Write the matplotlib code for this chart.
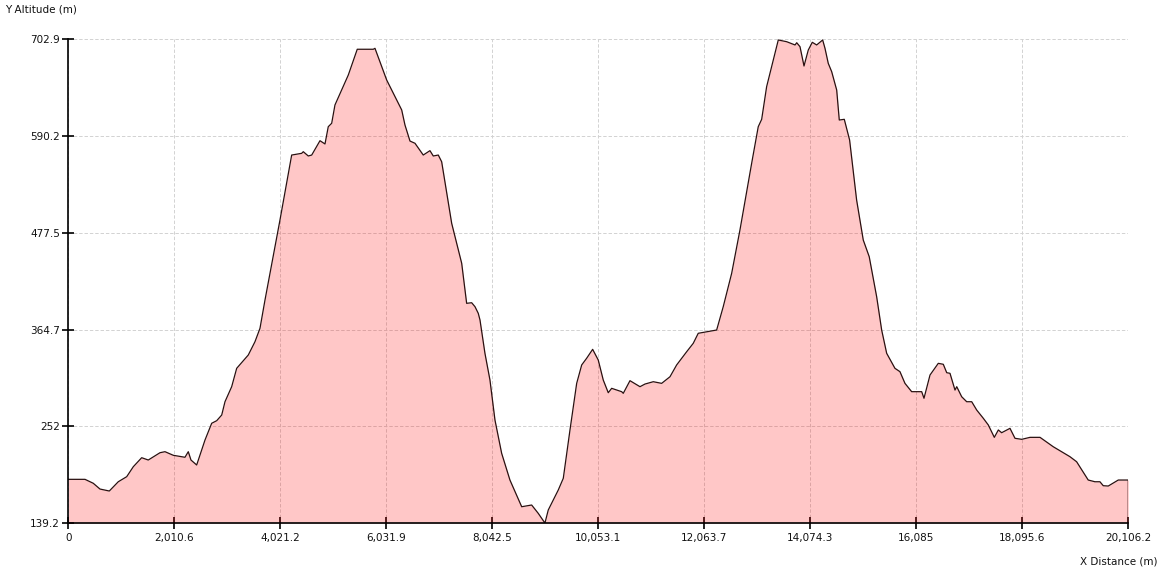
import matplotlib
matplotlib.use("Agg")
import matplotlib.pyplot as plt

# Elevation profile (distance in m, altitude in m)
distance = [0, 317, 474, 601, 778, 948, 1108, 1233, 1392, 1517, 1739, 1834, 1992, 2213, 2276,
            2327, 2435, 2498, 2593, 2720, 2815, 2910, 2972, 3099, 3194, 3414, 3541, 3636, 3731,
            4015, 4237, 4427, 4457, 4552, 4617, 4774, 4869, 4931, 4996, 5058, 5311, 5481, 5785,
            5817, 6039, 6324, 6386, 6481, 6576, 6733, 6860, 6923, 7018, 7082, 7272, 7367, 7462,
            7556, 7651, 7714, 7776, 7809, 7903, 7998, 8093, 8220, 8377, 8600, 8789, 8914, 9041,
            9104, 9294, 9389, 9516, 9643, 9738, 9832, 9946, 10052, 10147, 10242, 10307, 10496,
            10527, 10654, 10844, 10939, 11096, 11255, 11413, 11539, 11729, 11854, 11949, 12109,
            12298, 12423, 12583, 12740, 12962, 13087, 13152, 13246, 13467, 13626, 13785, 13817,
            13879, 13955, 14036, 14112, 14195, 14309, 14353, 14415, 14480, 14575, 14624, 14719,
            14820, 14953, 15079, 15192, 15333, 15428, 15523, 15680, 15775, 15870, 15997, 16187,
            16231, 16345, 16502, 16597, 16662, 16724, 16819, 16852, 16946, 17041, 17136, 17231,
            17356, 17451, 17565, 17641, 17704, 17862, 17957, 18084, 18242, 18432, 18682, 18999,
            19126, 19346, 19473, 19568, 19631, 19726, 19916, 20106.2]
altitude = [190.4, 190.4, 185.8, 179.1, 176.8, 187.6, 193.5, 205.1, 215.6, 212.9, 221.4, 222.6,
            218.4, 216.1, 222.6, 212.9, 207.1, 218.7, 236.2, 255.7, 258.7, 265.3, 280.8, 298.3,
            319.7, 335.2, 350.7, 366.3, 399.3, 492.4, 568.1, 570.1, 572.0, 567.0, 568.1, 584.8,
            581.0, 601.1, 605.1, 626.4, 661.3, 691.3, 691.3, 692.4, 655.5, 620.6, 603.1, 584.4,
            581.8, 568.1, 573.2, 567.0, 568.1, 560.3, 488.6, 465.3, 442.0, 395.4, 396.1, 391.5,
            383.8, 376.0, 337.2, 306.1, 259.5, 220.7, 189.6, 158.5, 160.5, 150.8, 139.5, 154.7,
            178.0, 191.6, 247.9, 302.2, 323.6, 331.4, 341.8, 329.4, 306.1, 291.3, 296.4, 292.5,
            290.6, 305.3, 298.3, 301.4, 304.1, 302.2, 309.9, 323.6, 339.0, 348.8, 360.5, 362.3,
            364.3, 391.5, 430.4, 480.8, 558.5, 601.1, 609.7, 647.7, 702.1, 700.1, 696.3, 698.9,
            694.3, 671.8, 690.4, 699.4, 696.3, 702.1, 692.4, 674.9, 665.2, 643.8, 608.9, 609.7,
            585.6, 515.7, 469.1, 449.7, 403.1, 364.3, 337.2, 319.7, 315.8, 302.2, 292.5, 292.5,
            284.8, 311.9, 325.5, 324.4, 314.6, 313.9, 294.4, 298.3, 286.6, 280.8, 280.8, 271.1,
            261.5, 253.7, 239.3, 247.9, 244.7, 249.8, 238.2, 237.0, 239.3, 239.3, 228.4, 216.8,
            210.9, 189.6, 187.6, 187.6, 183.0, 182.6, 189.6, 189.6]

x_ticks = [0, 2010.6, 4021.2, 6031.9, 8042.5, 10053.1, 12063.7, 14074.3, 16085, 18095.6, 20106.2]
x_tick_labels = ["0", "2,010.6", "4,021.2", "6,031.9", "8,042.5", "10,053.1", "12,063.7",
                 "14,074.3", "16,085", "18,095.6", "20,106.2"]
y_ticks = [139.2, 252, 364.7, 477.5, 590.2, 702.9]
y_tick_labels = ["139.2", "252", "364.7", "477.5", "590.2", "702.9"]

W, H = 1161, 571
fig = plt.figure(figsize=(W / 100, H / 100), dpi=100)
ax = fig.add_axes([68.3 / W, 1 - 523.3 / H, 1060 / W, 484 / H])

x_min, x_max = x_ticks[0], x_ticks[-1]
y_min, y_max = y_ticks[0], y_ticks[-1]

ax.fill_between(distance, altitude, y_min, color=(1, 0, 0), alpha=0.22, linewidth=0, zorder=2)
ax.plot(distance + [distance[-1]], altitude + [y_min], color="#2a1010", lw=0.9, zorder=3)

ax.set_xlim(x_min, x_max)
ax.set_ylim(y_min, y_max)
ax.set_xticks(x_ticks)
ax.set_xticklabels(x_tick_labels)
ax.set_yticks(y_ticks)
ax.set_yticklabels(y_tick_labels)

ax.grid(True, color="#d2d2d2", linestyle=(0, (3.5, 2)), linewidth=0.7, zorder=1)
ax.set_axisbelow(True)
for s in ["top", "right"]:
    ax.spines[s].set_visible(False)
for s in ["left", "bottom"]:
    ax.spines[s].set_color("black")
    ax.spines[s].set_linewidth(1.2)
    ax.spines[s].set_zorder(4)

ax.tick_params(axis="both", direction="inout", length=8, width=1.2, color="black",
               labelsize=7.5, labelcolor="#111111")
ax.tick_params(axis="x", pad=3)
ax.tick_params(axis="y", pad=2)

fig.text(5 / W, 1 - 9 / H, "Y Altitude (m)", fontsize=7.5, ha="left", va="center", color="#111111")
fig.text(1158 / W, 1 - 562 / H, "X Distance (m)", fontsize=7.5, ha="right", va="center", color="#111111")

fig.savefig("out.png", dpi=100)
